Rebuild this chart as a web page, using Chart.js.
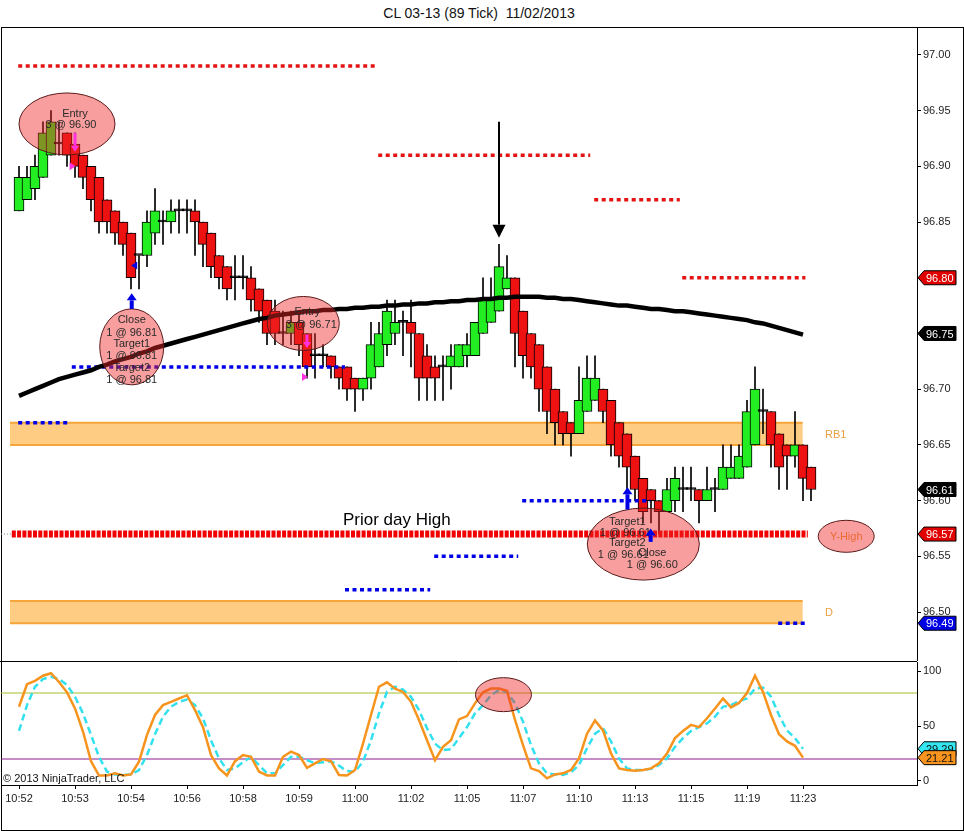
<!DOCTYPE html>
<html>
<head>
<meta charset="utf-8">
<script src="https://cdn.jsdelivr.net/npm/chart.js@4.4.1/dist/chart.umd.min.js"></script>
<style>
  body { margin: 0; background: #fff; width: 964px; height: 831px; overflow: hidden; font-family: "Liberation Sans", Arial, sans-serif; }
  #title { position: absolute; left: 0; top: 5px; width: 958px; text-align: center; font-size: 14px; white-space: pre; color: #111; }
  #frame { position: absolute; left: 1px; top: 27px; width: 963px; height: 804px; border: 1px solid #000; box-sizing: border-box; }
  #main { position: absolute; left: 0; top: 0; }
  #stoch { position: absolute; left: 0; top: 661px; }
  #copy { position: absolute; left: 3px; top: 772px; font-size: 11px; color: #111; }
</style>
</head>
<body>
<div id="frame"></div>
<div id="title">CL 03-13 (89 Tick)  11/02/2013</div>
<canvas id="main" width="964" height="661"></canvas>
<canvas id="stoch" width="964" height="170"></canvas>
<div id="copy">© 2013 NinjaTrader, LLC</div>
<script>
// 89-tick bars
const opens  = [96.86,96.87,96.88,96.89,96.91,96.92,96.93,96.92,96.91,96.90,96.89,96.87,96.86,96.85,96.84,96.82,96.82,96.84,96.85,96.85,
                96.86,96.86,96.86,96.85,96.84,96.82,96.81,96.80,96.80,96.80,96.79,96.78,96.77,96.75,96.75,96.76,96.75,96.73,96.73,96.73,
                96.72,96.72,96.71,96.70,96.71,96.72,96.74,96.75,96.76,96.76,96.75,96.73,96.72,96.72,96.72,96.72,96.73,96.73,96.75,96.76,
                96.77,96.79,96.80,96.77,96.75,96.74,96.72,96.70,96.68,96.67,96.66,96.68,96.69,96.70,96.69,96.67,96.66,96.64,96.62,96.61,
                96.60,96.59,96.60,96.61,96.61,96.61,96.60,96.61,96.61,96.62,96.62,96.63,96.65,96.68,96.68,96.66,96.65,96.64,96.65,96.63];
const highs  = [96.90,96.90,96.91,96.94,96.95,96.94,96.93,96.93,96.91,96.90,96.89,96.87,96.86,96.85,96.84,96.82,96.86,96.88,96.86,96.87,
                96.87,96.87,96.87,96.85,96.84,96.82,96.81,96.82,96.82,96.81,96.79,96.78,96.78,96.77,96.77,96.77,96.75,96.75,96.74,96.73,
                96.72,96.72,96.71,96.71,96.76,96.76,96.78,96.78,96.77,96.78,96.75,96.74,96.73,96.73,96.74,96.74,96.75,96.76,96.80,96.80,
                96.83,96.82,96.80,96.77,96.75,96.74,96.72,96.70,96.68,96.67,96.72,96.73,96.73,96.70,96.69,96.67,96.66,96.64,96.62,96.61,
                96.60,96.62,96.63,96.63,96.63,96.61,96.63,96.62,96.65,96.65,96.65,96.69,96.72,96.70,96.68,96.66,96.65,96.68,96.65,96.63];
const lows   = [96.86,96.87,96.87,96.89,96.91,96.91,96.90,96.89,96.88,96.86,96.84,96.84,96.83,96.82,96.79,96.79,96.81,96.83,96.83,96.84,
                96.84,96.84,96.82,96.81,96.80,96.79,96.78,96.78,96.79,96.77,96.76,96.74,96.74,96.74,96.74,96.73,96.71,96.71,96.72,96.71,
                96.70,96.69,96.68,96.69,96.70,96.72,96.73,96.74,96.73,96.72,96.69,96.69,96.69,96.69,96.70,96.72,96.72,96.73,96.75,96.76,
                96.77,96.79,96.72,96.71,96.71,96.68,96.66,96.65,96.65,96.64,96.66,96.68,96.69,96.67,96.64,96.63,96.61,96.60,96.58,96.58,
                96.57,96.59,96.59,96.59,96.60,96.58,96.60,96.59,96.61,96.62,96.62,96.63,96.65,96.66,96.63,96.61,96.61,96.63,96.60,96.60];
const closes = [96.89,96.89,96.90,96.93,96.94,96.92,96.91,96.90,96.89,96.87,96.85,96.85,96.84,96.83,96.80,96.82,96.85,96.86,96.85,96.86,
                96.86,96.86,96.85,96.83,96.81,96.80,96.79,96.80,96.80,96.78,96.77,96.75,96.75,96.75,96.76,96.74,96.72,96.73,96.73,96.72,
                96.71,96.70,96.70,96.71,96.74,96.75,96.77,96.76,96.76,96.75,96.71,96.71,96.71,96.72,96.73,96.74,96.74,96.76,96.78,96.78,
                96.81,96.80,96.75,96.73,96.72,96.70,96.68,96.67,96.66,96.66,96.69,96.71,96.71,96.68,96.65,96.64,96.63,96.61,96.59,96.60,
                96.59,96.61,96.62,96.61,96.61,96.60,96.61,96.61,96.63,96.63,96.64,96.68,96.70,96.68,96.65,96.63,96.64,96.65,96.62,96.61];
// moving average (no value on the last, still forming bar)
const smaValues = [96.694,96.697,96.700,96.703,96.706,96.709,96.711,96.713,96.715,96.717,96.720,96.722,96.725,96.727,96.729,96.732,96.734,96.737,96.739,96.741,
                   96.743,96.745,96.747,96.749,96.751,96.753,96.755,96.757,96.759,96.761,96.763,96.764,96.766,96.767,96.768,96.769,96.770,96.770,96.771,96.771,
                   96.772,96.772,96.773,96.773,96.774,96.774,96.775,96.775,96.776,96.776,96.777,96.777,96.778,96.778,96.779,96.779,96.780,96.780,96.781,96.781,
                   96.782,96.782,96.783,96.783,96.783,96.783,96.782,96.782,96.781,96.781,96.780,96.779,96.778,96.777,96.776,96.775,96.775,96.774,96.773,96.772,
                   96.772,96.771,96.770,96.770,96.769,96.768,96.767,96.766,96.765,96.764,96.763,96.762,96.760,96.759,96.757,96.755,96.753,96.751,96.749];
const stochK = [67.5,88,91,95.7,98,90,80.6,66,45,18,5,5,7,5,6,17.6,42,60,69,72,
                75,78,64.5,49,23.6,11.5,5,18,23.6,22,8.5,5,5,22,26.7,23.6,12,16,20,18,
                5.5,5,10,34,60,85.7,89.7,84,81,72,55.5,37,19,31,37,56,59,70.6,80.6,84,
                84,82,55.5,32.7,11.5,9,2.4,6,7,10,20.6,43,55,46,25,11.5,10,9.4,10,11.5,
                16,25,39,45.5,51,49,57,66,75,67,71,80,95.7,81,60,42.5,36,32,21.21];
const stochD = [45.5,69,85.7,92.7,94.8,92.7,87.3,76.6,61.5,42,22,8.5,6,5.5,6,10,23.6,42.5,58.5,67.5,
                72,74,69,57,37,20.6,10,11.5,17,22,14.5,7,7,14.5,22,22,19,16,17,18,
                14,9,8.5,17.6,37,61.5,81,85.7,83,76.6,64.5,48,34,28,29,39,49,61.5,69,78,
                82.7,81,70.6,54,32.7,16,7,6,5.5,8,14.5,29.7,43,48,36,20.6,11.5,10,10,11,
                14.5,20.6,31,39,45.5,49,52.4,58.5,67.5,69,72.7,75,84,85,76.6,60,46,39,29.29];
const stochLevels = [80, 20];

const priceTicks = [96.50,96.55,96.60,96.65,96.70,96.75,96.80,96.85,96.90,96.95,97.00];
const stochTicks = [0, 50, 100];
const tickBars   = [0,7,14,21,28,35,42,49,56,63,70,77,84,91,98];
const timeLabels = ['10:52','10:53','10:54','10:56','10:58','10:59','11:00','11:02','11:05','11:07','11:10','11:13','11:15','11:19','11:23'];

// pivot style levels (price, from bar, to bar)
const redLevels  = [96.99, 96.91, 96.87, 96.80];
const redFrom    = [-0.1, 44.9, 71.9, 82.9];
const redTo      = [44.5, 71.4, 82.6, 98.3];
const blueLevels = [96.67, 96.72, 96.52, 96.55, 96.60, 96.49];
const blueFrom   = [-0.1, 6.6, 40.75, 51.9, 62.9, 94.9];
const blueTo     = [6.4, 40.75, 51.4, 62.4, 78.9, 98.4];
const yHighLevel = 96.57;

const bandNames  = ['RB1', 'D'];
const bandTop    = [96.67, 96.51];
const bandBottom = [96.65, 96.49];

const priceTags = [96.80, 96.75, 96.61, 96.57, 96.49];
const stochTags = [29.29, 21.21];

// ---- styles ----
const GREEN = '#22EE22', RED = '#EE1111', BLUE = '#0000E6';
const FONT = '"Liberation Sans", Arial, sans-serif';
const X_MIN = -2.25, X_MAX = 112.25;
Chart.defaults.font.family = FONT;
Chart.defaults.font.size = 11;
Chart.defaults.color = '#222';

const notes = [
  { bar: 6.0,   price: 96.938, rx: 48, ry: 31, lines: [['Entry', 8, -10], ['3 @ 96.90', 4, 1]] },
  { bar: 14.09, price: 96.738, rx: 32, ry: 38, lines: [['Close', 0, -27], ['1 @ 96.81', 0, -14], ['Target1', 0, -3],
                                                       ['1 @ 96.81', 0, 9], ['Target2', 0, 21], ['1 @ 96.81', 0, 33]] },
  { bar: 35.54, price: 96.759, rx: 36, ry: 27, lines: [['Entry', 4, -11], ['3 @ 96.71', 8, 2]] },
  { bar: 78.04, price: 96.561, rx: 56, ry: 36, lines: [['Target1', -16, -22], ['1 @ 96.61', -18, -11], ['Target2', -16, -1],
                                                       ['1 @ 96.61', -20, 11], ['Close', 9, 9], ['1 @ 96.60', 9, 21]] }
];
const arrows = [
  { bar: 60.0,  from: 96.940, to: 96.836, color: '#000', shaft: 2, headW: 13, headH: 13 },
  { bar: 14.09, from: 96.772, to: 96.786, color: BLUE, shaft: 4, headW: 10, headH: 7 },
  { bar: 76.06, from: 96.592, to: 96.612, color: BLUE, shaft: 4, headW: 10, headH: 7 },
  { bar: 78.96, from: 96.563, to: 96.575, color: BLUE, shaft: 4, headW: 10, headH: 7 },
  { bar: 7.0,   from: 96.930, to: 96.913, color: '#FF33DD', shaft: 3, headW: 8, headH: 6 },
  { bar: 36.0,  from: 96.749, to: 96.737, color: '#FF33DD', shaft: 3, headW: 8, headH: 6 }
];
const fills = [
  { bar: 6.7,  price: 96.900, dir: 1,  color: '#FF33DD' },
  { bar: 35.75, price: 96.711, dir: 1, color: '#FF33DD' },
  { bar: 14.4, price: 96.811, dir: -1, color: BLUE }
];

function ellipse(ctx, cx, cy, rx, ry) {
  ctx.beginPath();
  ctx.ellipse(cx, cy, rx, ry, 0, 0, Math.PI * 2);
  ctx.fillStyle = 'rgba(240,40,40,0.45)';
  ctx.fill();
  ctx.strokeStyle = '#5a1a1a';
  ctx.lineWidth = 1;
  ctx.stroke();
}

function arrow(ctx, x, yTail, yTip, a) {
  const dir = yTip > yTail ? 1 : -1;
  const yBase = yTip - dir * a.headH;
  ctx.fillStyle = a.color;
  ctx.fillRect(x - a.shaft / 2, Math.min(yTail, yBase), a.shaft, Math.abs(yBase - yTail));
  ctx.beginPath();
  ctx.moveTo(x - a.headW / 2, yBase);
  ctx.lineTo(x + a.headW / 2, yBase);
  ctx.lineTo(x, yTip);
  ctx.closePath();
  ctx.fill();
}

function tag(ctx, x0, y, text, bg, fg) {
  ctx.beginPath();
  ctx.moveTo(x0, y);
  ctx.lineTo(x0 + 6, y - 7);
  ctx.lineTo(x0 + 38, y - 7);
  ctx.lineTo(x0 + 38, y + 7);
  ctx.lineTo(x0 + 6, y + 7);
  ctx.closePath();
  ctx.fillStyle = bg;
  ctx.fill();
  ctx.strokeStyle = '#000';
  ctx.lineWidth = 1;
  ctx.stroke();
  ctx.fillStyle = fg;
  ctx.font = '11px ' + FONT;
  ctx.textAlign = 'left';
  ctx.textBaseline = 'middle';
  ctx.fillText(text, x0 + 8, y + 1);
}

const mainDecor = {
  id: 'mainDecor',
  beforeDatasetsDraw(chart) {
    const { ctx, scales: { x, y } } = chart;
    ctx.save();
    const x0 = x.getPixelForValue(-1.125), x1 = x.getPixelForValue(97.96);
    bandTop.forEach((t, i) => {
      const y0 = y.getPixelForValue(t), y1 = y.getPixelForValue(bandBottom[i]);
      ctx.fillStyle = '#FFCC84';
      ctx.fillRect(x0, y0, x1 - x0, y1 - y0);
      ctx.strokeStyle = '#F5A53A';
      ctx.lineWidth = 2;
      ctx.beginPath();
      ctx.moveTo(x0, y0); ctx.lineTo(x1, y0);
      ctx.moveTo(x0, y1); ctx.lineTo(x1, y1);
      ctx.stroke();
      ctx.fillStyle = '#E8A040';
      ctx.font = '11px ' + FONT;
      ctx.textBaseline = 'middle';
      ctx.textAlign = 'left';
      ctx.fillText(bandNames[i], x.getPixelForValue(100.75), (y0 + y1) / 2 + 1);
    });
    ctx.restore();
  },
  afterDatasetsDraw(chart) {
    const { ctx, scales: { x, y } } = chart;
    ctx.save();
    // prior day high label
    ctx.fillStyle = '#000';
    ctx.font = '17px ' + FONT;
    ctx.textAlign = 'left';
    ctx.textBaseline = 'middle';
    ctx.fillText('Prior day High', x.getPixelForValue(40.5), y.getPixelForValue(96.582));

    // Y-High bubble: text first, bubble over it
    const yhx = x.getPixelForValue(103.4), yhy = y.getPixelForValue(96.568);
    ctx.fillStyle = '#E8A040';
    ctx.font = '11px ' + FONT;
    ctx.textAlign = 'center';
    ctx.fillText('Y-High', yhx, yhy + 1);
    ellipse(ctx, yhx, yhy, 28, 16);

    notes.forEach(n => {
      const cx = x.getPixelForValue(n.bar), cy = y.getPixelForValue(n.price);
      ellipse(ctx, cx, cy, n.rx, n.ry);
      ctx.fillStyle = '#2a2a2a';
      ctx.font = '11px ' + FONT;
      ctx.textAlign = 'center';
      ctx.textBaseline = 'middle';
      n.lines.forEach(([t, dx, dy]) => ctx.fillText(t, cx + dx, cy + dy));
    });

    arrows.forEach(a => arrow(ctx, x.getPixelForValue(a.bar), y.getPixelForValue(a.from), y.getPixelForValue(a.to), a));

    fills.forEach(f => {
      const px = x.getPixelForValue(f.bar), py = y.getPixelForValue(f.price);
      ctx.fillStyle = f.color;
      ctx.beginPath();
      ctx.moveTo(px - 3 * f.dir, py - 4);
      ctx.lineTo(px + 3 * f.dir, py);
      ctx.lineTo(px - 3 * f.dir, py + 4);
      ctx.closePath();
      ctx.fill();
    });
    ctx.restore();
  },
  afterDraw(chart) {
    const { ctx, scales: { y }, chartArea } = chart;
    const colors = ['#E00000', '#000000', '#000000', '#E00000', BLUE];
    ctx.save();
    priceTags.forEach((v, i) => tag(ctx, chartArea.right + 1, y.getPixelForValue(v), v.toFixed(2), colors[i], '#fff'));
    ctx.restore();
  }
};

const stochDecor = {
  id: 'stochDecor',
  afterDatasetsDraw(chart) {
    const { ctx, scales: { x, y } } = chart;
    ctx.save();
    ellipse(ctx, x.getPixelForValue(60.56), y.getPixelForValue(78.5), 28, 17);
    ctx.restore();
  },
  afterDraw(chart) {
    const { ctx, scales: { y }, chartArea } = chart;
    const colors = ['#33E6F0', '#F7941E'];
    ctx.save();
    // panel separator
    ctx.strokeStyle = '#000';
    ctx.lineWidth = 1;
    ctx.beginPath();
    ctx.moveTo(0, 0.5);
    ctx.lineTo(chartArea.right, 0.5);
    ctx.stroke();
    stochTags.forEach((v, i) => tag(ctx, chartArea.right + 1, y.getPixelForValue(v), v.toFixed(2), colors[i], '#111'));
    ctx.restore();
  }
};

const barIdx = closes.map((_, i) => i);
const bodyColors = closes.map((c, i) => c > opens[i] ? GREEN : c < opens[i] ? RED : '#000');

function levelSet(price, from, to, color, width, dash, order) {
  return {
    type: 'line', data: [{ x: from, y: price }, { x: to, y: price }],
    borderColor: color, borderWidth: width, borderDash: dash, borderCapStyle: 'butt',
    pointRadius: 0, order
  };
}

const levelSets = [
  ...redLevels.map((p, i) => levelSet(p, redFrom[i], redTo[i], '#E41414', 3.5, [4, 3.5], 1)),
  ...blueLevels.map((p, i) => levelSet(p, blueFrom[i], blueTo[i], BLUE, 3.5, [4, 3.5], 1)),
  levelSet(yHighLevel, -0.9, 98.6, '#F00000', 7, [4, 1.3], 1),
  levelSet(yHighLevel, X_MIN, -0.9, '#888', 1, [1, 2], 2)
];

// labels sit well inside the panels, so drop the edge padding chart.js asks for
const noEdgePad = s => { s.paddingTop = 0; s.paddingBottom = 0; s.paddingLeft = 0; s.paddingRight = 0; };

const rightAxis = (min, max, ticks) => ({
  position: 'right', min, max,
  afterBuildTicks: s => { s.ticks = ticks.map(v => ({ value: v })); },
  afterFit: s => { s.width = 47; noEdgePad(s); },
  grid: { drawOnChartArea: false, drawTicks: true, tickLength: 4, color: '#000' },
  border: { display: true, color: '#000', width: 1 },
  ticks: { padding: 2, color: '#222' }
});

const mainY = rightAxis(96.457, 97.025, priceTicks);
mainY.ticks.callback = v => v.toFixed(2);

new Chart(document.getElementById('main'), {
  type: 'bar',
  data: {
    datasets: [
      { type: 'line', label: 'SMA', data: smaValues.map((v, i) => ({ x: i, y: v })),
        borderColor: '#000', borderWidth: 4.5, pointRadius: 0, order: 0 },
      ...levelSets,
      { type: 'bar', label: 'body', data: barIdx.map(i => ({ x: i, y: [opens[i], closes[i]] })),
        backgroundColor: bodyColors, borderColor: '#000', borderWidth: 1, borderSkipped: false,
        barThickness: 10, minBarLength: 2, grouped: false, order: 3 },
      { type: 'bar', label: 'wick', data: barIdx.map(i => ({ x: i, y: [lows[i], highs[i]] })),
        backgroundColor: '#000', barThickness: 1, grouped: false, order: 4 }
    ]
  },
  options: {
    responsive: false, animation: false, events: [],
    layout: { padding: { left: 1, top: 27, right: 0, bottom: 1 } },
    plugins: { legend: { display: false }, tooltip: { enabled: false } },
    scales: {
      x: { type: 'linear', min: X_MIN, max: X_MAX, offset: false, display: false },
      y: mainY
    }
  },
  plugins: [mainDecor]
});

const stochY = rightAxis(-3.64, 108.2, stochTicks);

new Chart(document.getElementById('stoch'), {
  type: 'line',
  data: {
    datasets: [
      { label: 'K', data: stochK.map((v, i) => ({ x: i, y: v })), borderColor: '#F7941E', borderWidth: 2.5, pointRadius: 0, order: 0 },
      { label: 'D', data: stochD.map((v, i) => ({ x: i, y: v })), borderColor: '#33E0EE', borderWidth: 2.5, borderDash: [7, 4], pointRadius: 0, order: 1 },
      ...stochLevels.map((lv, i) => ({
        data: [{ x: X_MIN, y: lv }, { x: X_MAX, y: lv }],
        borderColor: i === 0 ? '#A8BE2C' : '#8B1A8B', borderWidth: 1, pointRadius: 0, order: 2
      }))
    ]
  },
  options: {
    responsive: false, animation: false, events: [],
    layout: { padding: { left: 1, top: 1, right: 0, bottom: 0 } },
    plugins: { legend: { display: false }, tooltip: { enabled: false } },
    scales: {
      x: {
        type: 'linear', min: X_MIN, max: X_MAX, offset: false,
        afterBuildTicks: s => { s.ticks = tickBars.map(v => ({ value: v })); },
        afterFit: s => { s.height = 46; noEdgePad(s); },
        grid: { drawOnChartArea: false, drawTicks: true, tickLength: 4, color: '#000' },
        border: { display: true, color: '#000', width: 1 },
        ticks: { autoSkip: false, maxRotation: 0, padding: 3, color: '#222',
                 callback: v => timeLabels[tickBars.indexOf(v)] }
      },
      y: stochY
    }
  },
  plugins: [stochDecor]
});
</script>
</body>
</html>
